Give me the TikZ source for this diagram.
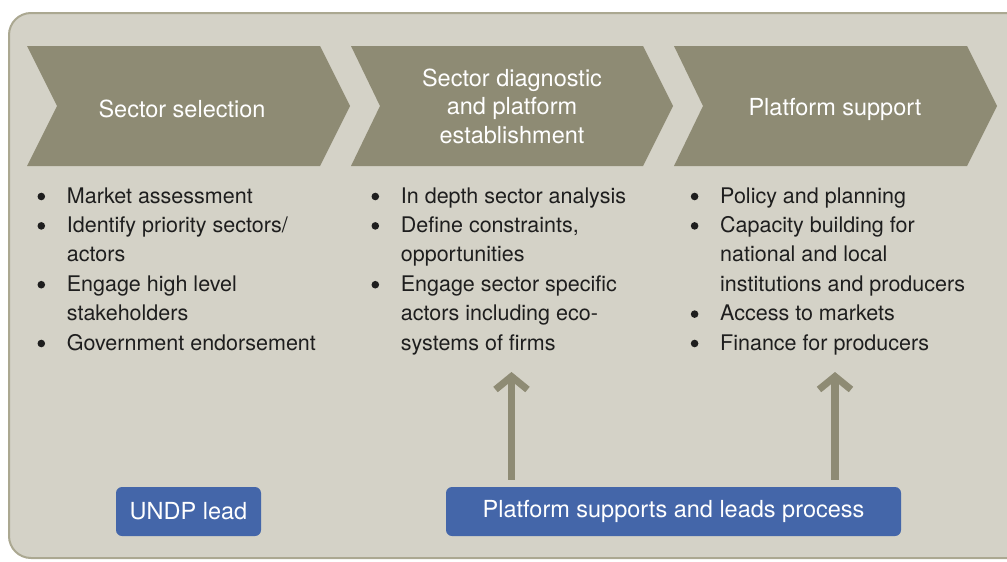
\documentclass[tikz,border=0pt]{standalone}
\usepackage{fontspec}
\setmainfont{TeX Gyre Heros}
\usetikzlibrary{arrows.meta}
\definecolor{bgc}{HTML}{D4D2C7}
\definecolor{borderc}{HTML}{ABA891}
\definecolor{chevc}{HTML}{8E8B74}
\definecolor{bluec}{HTML}{4466A9}
\definecolor{txtc}{HTML}{1E1E1E}
\newcommand{\bulletcol}[1]{\begin{tabular}[t]{@{}c@{\hspace{21.8pt}}l@{}}#1\end{tabular}}
\newcommand{\bul}{\tikz[baseline=0pt]\fill[txtc] (0pt,6.5pt) circle (3.8pt);}
\tikzset{
  chevron/.style={fill=chevc},
  headtxt/.style={text=white, font=\fontsize{23.5}{28.5}\selectfont, align=center, inner sep=0pt},
  listtxt/.style={text=txtc, font=\fontsize{21.5}{29.4}\selectfont, inner sep=0pt, anchor=base west},
  bluebox/.style={fill=bluec, text=white, rounded corners=6pt, font=\fontsize{23.5}{28}\selectfont, minimum height=49pt, inner sep=0pt},
  uparr/.style={draw=chevc, line width=7.5pt, -{Straight Barb[length=13pt, width=32pt, line width=7pt]}}
}
\begin{document}
\begin{tikzpicture}[x=1pt,y=-1pt]
\useasboundingbox (0,0) rectangle (1007,562);
\fill[white] (0,0) rectangle (1007,562);
\draw[draw=borderc, fill=bgc, line width=2pt, rounded corners=22pt] (9,13) rectangle (1040,558);
% chevrons
\fill[chevron] (27,46) -- (320,46) -- (350,106) -- (320,166) -- (27,166) -- (57,106) -- cycle;
\fill[chevron] (351,46) -- (643,46) -- (673,106) -- (643,166) -- (351,166) -- (380,106) -- cycle;
\fill[chevron] (674,46) -- (967,46) -- (997,106) -- (967,166) -- (674,166) -- (703,106) -- cycle;
\node[headtxt] (h1) at (182,109) {Sector selection};
\node[headtxt] (h2) at (512,106) {Sector diagnostic\\and platform\\establishment};
\node[headtxt] (h3) at (835,109) {Platform support};
% lists
\node[listtxt] (l1) at (37.3,203) {\bulletcol{\bul & Market assessment\\
\bul & Identify priority sectors/\\
 & actors\\
\bul & Engage high level\\
 & stakeholders\\
\bul & Government endorsement}};
\node[listtxt] (l2) at (371.3,203) {\bulletcol{\bul & In depth sector analysis\\
\bul & Define constraints,\\
 & opportunities\\
\bul & Engage sector specific\\
 & actors including eco-\\
 & systems of firms}};
\node[listtxt] (l3) at (690.6,203) {\bulletcol{\bul & Policy and planning\\
\bul & Capacity building for\\
 & national and local\\
 & institutions and producers\\
\bul & Access to markets\\
\bul & Finance for producers}};
% blue boxes
\node[bluebox, minimum width=145pt] (undp) at (188.5,511.5) {UNDP lead};
\node[bluebox, minimum width=455pt] (plat) at (673.5,511.5) {Platform supports and leads process};
% arrows
\coordinate (a1) at (511.5,372);
\coordinate (a2) at (835,372);
\draw[uparr] ([yshift=7pt]plat.north -| a1) -- (a1);
\draw[uparr] ([yshift=7pt]plat.north -| a2) -- (a2);
\end{tikzpicture}
\end{document}
